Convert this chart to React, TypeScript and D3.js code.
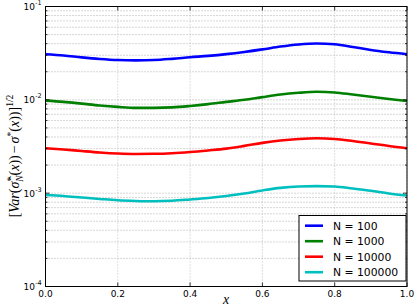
import React from "react";
import * as d3 from "d3";

const xs = [0, 0.05, 0.1, 0.15, 0.2, 0.25, 0.3, 0.35, 0.4, 0.45, 0.5, 0.55, 0.6, 0.65, 0.7, 0.75, 0.8, 0.85, 0.9, 0.95, 1.0];
const n100 = [0.0308, 0.0299, 0.0285, 0.0274, 0.0267, 0.0265, 0.0267, 0.0275, 0.0286, 0.0296, 0.0309, 0.0326, 0.0347, 0.0372, 0.0392, 0.0402, 0.0394, 0.0369, 0.0342, 0.0323, 0.0308];
const n1000 = [0.0098, 0.0095, 0.0091, 0.0087, 0.0084, 0.0082, 0.0082, 0.0083, 0.0086, 0.009, 0.0095, 0.01, 0.0107, 0.0114, 0.0119, 0.0122, 0.012, 0.0114, 0.0108, 0.0102, 0.0097];
const n10000 = [0.00303, 0.00294, 0.00283, 0.00273, 0.00266, 0.00263, 0.00264, 0.00268, 0.00276, 0.00287, 0.003, 0.00321, 0.00346, 0.00367, 0.00381, 0.00388, 0.00381, 0.00362, 0.00341, 0.0032, 0.00303];
const n100000 = [0.000957, 0.000933, 0.000899, 0.000867, 0.000839, 0.000825, 0.000819, 0.000829, 0.000856, 0.000888, 0.000933, 0.000993, 0.00107, 0.00114, 0.00118, 0.00119, 0.00118, 0.00112, 0.00106, 0.000993, 0.000945];

const seriesNames = ["N = 100", "N = 1000", "N = 10000", "N = 100000"];
const seriesColors = ["#0000ff", "#008000", "#ff0000", "#00bfbf"];
const seriesData = [n100, n1000, n10000, n100000];

const xTicks = [0, 0.2, 0.4, 0.6, 0.8, 1.0];
const yExps = [-1, -2, -3, -4];

const W = 415, H = 307;
const L = 45.5, R = 407, T = 6.5, B = 286.5;

export default function App() {
  const x = d3.scaleLinear().domain([0, 1]).range([L, R]);
  const y = d3.scaleLog().domain([1e-4, 1e-1]).range([B, T]);
  const line = d3.line<number>().x((_, i) => x(xs[i])).y((d) => y(d)).curve(d3.curveMonotoneX);

  const minor: number[] = [];
  for (let e = -4; e < -1; e++) for (let m = 2; m <= 9; m++) minor.push(m * Math.pow(10, e));

  const tickFont = "DejaVu Sans, sans-serif";
  const legX = 299, legY = 215.5, legW = 107, legH = 65.5;
  const mathFont = "Liberation Serif, serif";

  return (
    <div style={{ position: "fixed", left: 0, top: 0 }}>
      <svg width={W} height={H} style={{ display: "block", background: "#fff" }}>
        {minor.map((v, i) => (
          <line key={"mg" + i} x1={L} x2={R} y1={y(v)} y2={y(v)} stroke="#9a9a9a" strokeWidth={0.8} strokeDasharray="1,2" />
        ))}
        {yExps.map((e) => (
          <line key={"yg" + e} x1={L} x2={R} y1={y(Math.pow(10, e))} y2={y(Math.pow(10, e))} stroke="#9a9a9a" strokeWidth={0.8} strokeDasharray="1,2" />
        ))}
        {xTicks.map((t) => (
          <line key={"xg" + t} x1={x(t)} x2={x(t)} y1={T} y2={B} stroke="#b0b0b0" strokeWidth={0.8} strokeDasharray="1,2" />
        ))}
        {seriesData.map((d, i) => (
          <path key={"s" + i} d={line(d) || ""} fill="none" stroke={seriesColors[i]} strokeWidth={2.6} />
        ))}
        {xTicks.map((t) => (
          <g key={"xt" + t}>
            <line x1={x(t)} x2={x(t)} y1={B} y2={B - 4} stroke="#000" strokeWidth={0.8} />
            <line x1={x(t)} x2={x(t)} y1={T} y2={T + 4} stroke="#000" strokeWidth={0.8} />
            <text x={x(t)} y={297} fontFamily={tickFont} fontSize={9} textAnchor="middle">{t.toFixed(1)}</text>
          </g>
        ))}
        {minor.map((v, i) => (
          <g key={"mt" + i}>
            <line x1={L} x2={L + 2} y1={y(v)} y2={y(v)} stroke="#000" strokeWidth={0.8} />
            <line x1={R} x2={R - 2} y1={y(v)} y2={y(v)} stroke="#000" strokeWidth={0.8} />
          </g>
        ))}
        {yExps.map((e) => {
          const yy = y(Math.pow(10, e));
          return (
            <g key={"yt" + e}>
              <line x1={L} x2={L + 4} y1={yy} y2={yy} stroke="#000" strokeWidth={0.8} />
              <line x1={R} x2={R - 4} y1={yy} y2={yy} stroke="#000" strokeWidth={0.8} />
              <text x={35} y={yy + 3.5} fontFamily={tickFont} fontSize={9} textAnchor="end">10</text>
              <text x={35.2} y={yy - 1.5} fontFamily={tickFont} fontSize={6.5} textAnchor="start">{"-" + Math.abs(e)}</text>
            </g>
          );
        })}
        <rect x={L} y={T} width={R - L} height={B - T} fill="none" stroke="#000" strokeWidth={1} />
        <rect x={legX} y={legY} width={legW} height={legH} fill="#fff" stroke="#000" strokeWidth={1} />
        {seriesNames.map((n, i) => {
          const ry = 225.7 + i * 15.5;
          return (
            <g key={"lg" + i}>
              <line x1={305} x2={323} y1={ry} y2={ry} stroke={seriesColors[i]} strokeWidth={2.6} />
              <text x={333} y={ry + 4} fontFamily={tickFont} fontSize={10.8}>{n}</text>
            </g>
          );
        })}
        <text x={226} y={304} fontFamily={mathFont} fontStyle="italic" fontSize={14} textAnchor="middle">x</text>
        <g transform="translate(19,156) rotate(-90)">
          <text x={0} y={0} fontFamily={mathFont} fontStyle="italic" fontSize={14} textAnchor="middle">
            <tspan fontStyle="normal">[</tspan>
            <tspan>Var</tspan>
            <tspan fontStyle="normal">(</tspan>
            <tspan>σ̂</tspan>
            <tspan fontSize={9.5} dy={-5} fontStyle="normal">*</tspan>
            <tspan fontSize={9.5} dy={9} dx={-5}>N</tspan>
            <tspan dy={-4} fontStyle="normal">(</tspan>
            <tspan>x</tspan>
            <tspan fontStyle="normal">))</tspan>
            <tspan fontStyle="normal" dx={2}>−</tspan>
            <tspan dx={2}>σ</tspan>
            <tspan fontSize={9.5} dy={-5} fontStyle="normal">*</tspan>
            <tspan dy={5} fontStyle="normal">(</tspan>
            <tspan>x</tspan>
            <tspan fontStyle="normal">))]</tspan>
            <tspan fontSize={9.5} dy={-6} fontStyle="normal">1/2</tspan>
          </text>
        </g>
      </svg>
    </div>
  );
}
